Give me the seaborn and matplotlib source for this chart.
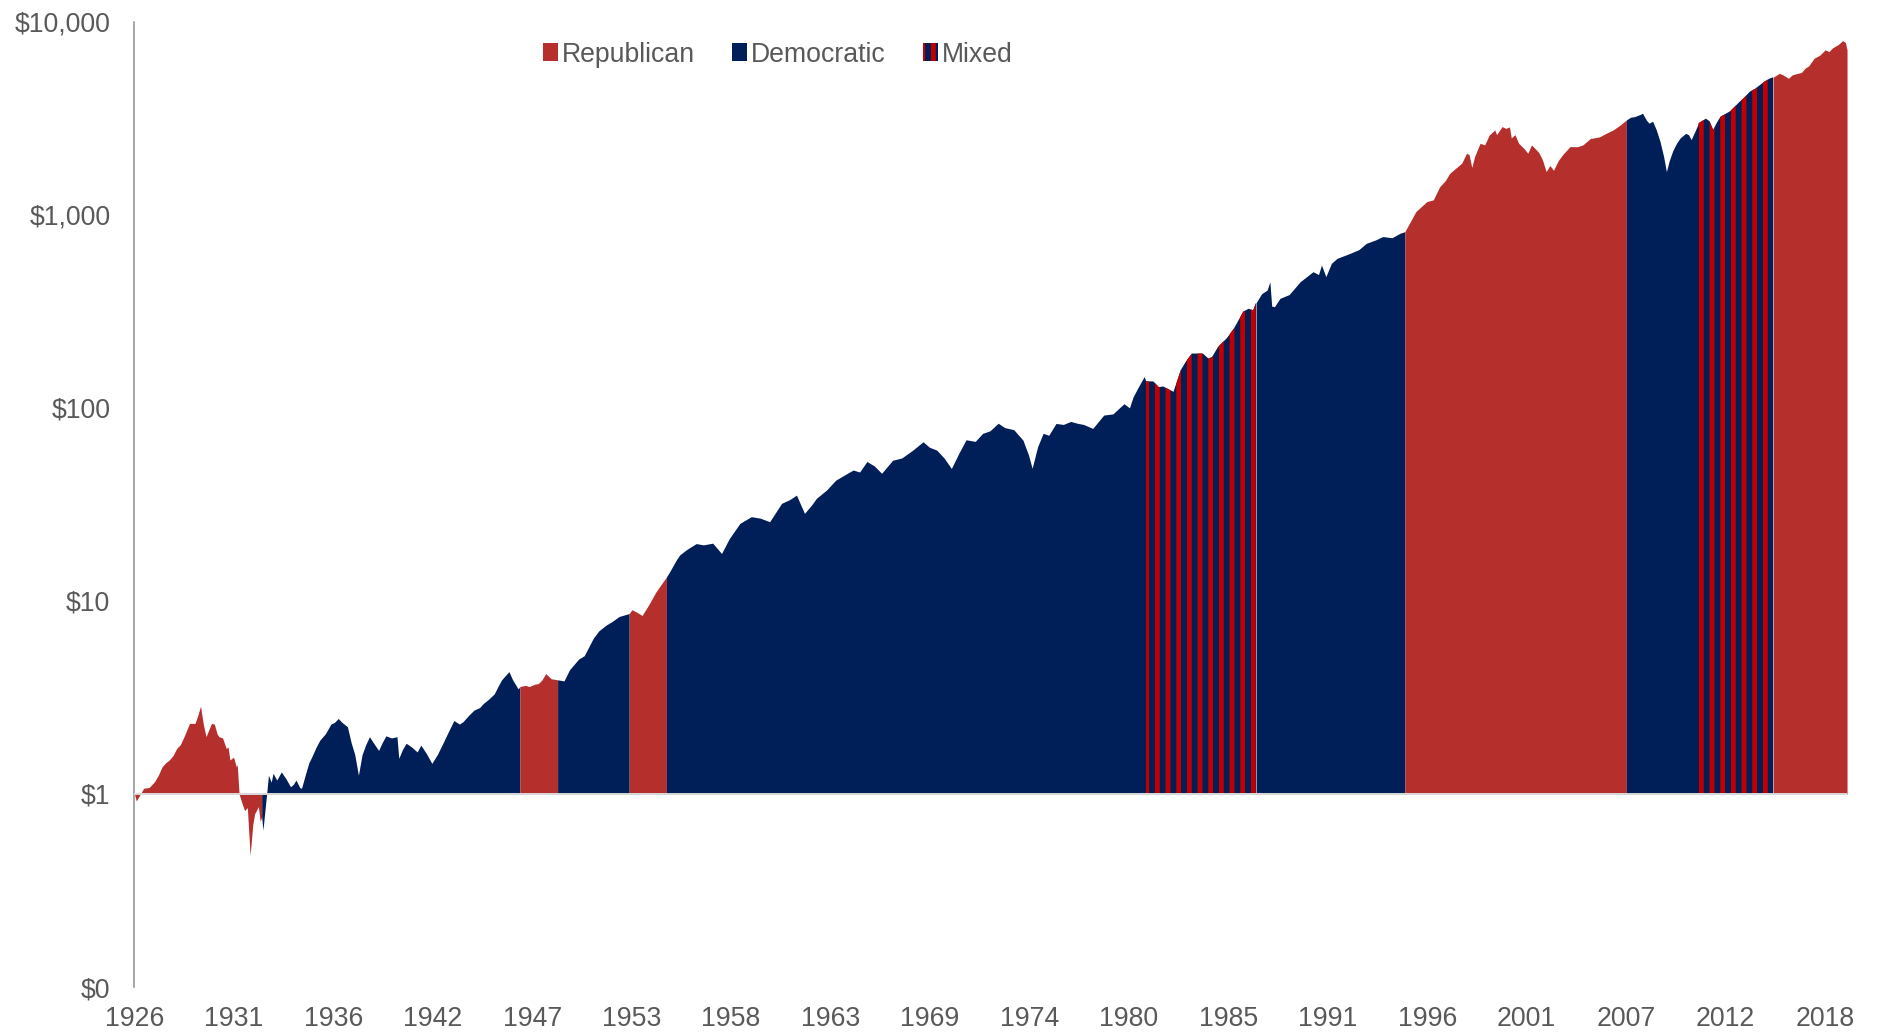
import numpy as np
import matplotlib
matplotlib.use("Agg")
import matplotlib.pyplot as plt
from matplotlib import font_manager
from matplotlib.patches import Patch
from matplotlib.ticker import NullLocator
import seaborn as sns

# growth of $1 (year, value)
years = [
    1926.00, 1926.10, 1926.30, 1926.50, 1926.80, 1927.10, 1927.30, 1927.50, 1927.70, 1927.90,
    1928.10, 1928.30, 1928.50, 1928.70, 1928.90, 1929.00, 1929.30, 1929.45, 1929.60, 1929.75,
    1929.90, 1930.05, 1930.20, 1930.35, 1930.50, 1930.60, 1930.80, 1931.00, 1931.10, 1931.20,
    1931.40, 1931.55, 1931.60, 1931.70, 1931.85, 1932.00, 1932.15, 1932.30, 1932.45, 1932.55,
    1932.75, 1932.85, 1932.93, 1933.00, 1933.20, 1933.30, 1933.45, 1933.55, 1933.75, 1934.00,
    1934.25, 1934.50, 1934.65, 1934.80, 1935.00, 1935.10, 1935.30, 1935.50, 1935.65, 1935.90,
    1936.10, 1936.40, 1936.70, 1936.90, 1937.10, 1937.30, 1937.60, 1937.80, 1938.00, 1938.20,
    1938.40, 1938.60, 1938.80, 1939.00, 1939.30, 1939.50, 1939.70, 1940.00, 1940.30, 1940.40,
    1940.60, 1940.80, 1941.10, 1941.40, 1941.60, 1941.90, 1942.20, 1942.50, 1942.80, 1943.10,
    1943.40, 1943.70, 1943.90, 1944.20, 1944.50, 1944.80, 1945.00, 1945.30, 1945.60, 1945.80,
    1946.00, 1946.20, 1946.40, 1946.60, 1946.90, 1947.00, 1947.30, 1947.50, 1947.80, 1948.00,
    1948.20, 1948.40, 1948.70, 1949.05, 1949.40, 1949.70, 1950.20, 1950.50, 1950.99, 1951.30,
    1951.70, 1952.00, 1952.40, 1952.95, 1953.10, 1953.40, 1953.65, 1954.00, 1954.40, 1954.70,
    1954.98, 1955.20, 1955.50, 1955.70, 1956.10, 1956.60, 1957.00, 1957.50, 1957.98, 1958.40,
    1958.98, 1959.60, 1960.10, 1960.60, 1961.25, 1961.70, 1962.06, 1962.50, 1962.90, 1963.15,
    1963.70, 1964.20, 1964.70, 1965.15, 1965.50, 1965.90, 1966.30, 1966.70, 1967.30, 1967.80,
    1968.40, 1968.96, 1969.30, 1969.70, 1970.10, 1970.50, 1970.90, 1971.30, 1971.80, 1972.20,
    1972.60, 1973.05, 1973.40, 1973.90, 1974.40, 1974.70, 1974.90, 1975.20, 1975.50, 1975.80,
    1976.20, 1976.60, 1977.00, 1977.40, 1977.70, 1978.20, 1978.80, 1979.30, 1979.90, 1980.20,
    1980.40, 1980.70, 1981.00, 1981.10, 1981.50, 1981.80, 1982.04, 1982.60, 1983.00, 1983.30,
    1983.60, 1984.20, 1984.50, 1984.70, 1985.03, 1985.50, 1985.90, 1986.40, 1986.70, 1986.94,
    1987.10, 1987.40, 1987.70, 1987.85, 1987.95, 1988.10, 1988.40, 1988.90, 1989.50, 1990.20,
    1990.50, 1990.66, 1990.90, 1991.20, 1991.50, 1992.20, 1992.70, 1993.10, 1993.60, 1994.00,
    1994.50, 1994.93, 1995.20, 1995.80, 1996.40, 1996.75, 1997.10, 1997.40, 1997.65, 1998.00,
    1998.30, 1998.56, 1998.70, 1998.85, 1999.00, 1999.30, 1999.55, 1999.80, 2000.10, 2000.20,
    2000.50, 2000.70, 2000.90, 2001.00, 2001.20, 2001.40, 2001.70, 2001.90, 2002.10, 2002.30,
    2002.50, 2002.70, 2002.90, 2003.10, 2003.30, 2003.55, 2003.80, 2004.20, 2004.60, 2004.90,
    2005.30, 2005.80, 2006.20, 2006.55, 2006.90, 2007.27, 2007.50, 2007.70, 2008.00, 2008.15,
    2008.35, 2008.50, 2008.70, 2008.90, 2009.10, 2009.30, 2009.45, 2009.60, 2009.80, 2010.00,
    2010.20, 2010.50, 2010.65, 2010.80, 2011.00, 2011.20, 2011.60, 2011.80, 2012.00, 2012.20,
    2012.40, 2012.90, 2013.20, 2013.45, 2013.70, 2014.00, 2014.30, 2014.55, 2014.80, 2015.10,
    2015.26, 2015.60, 2015.80, 2016.10, 2016.30, 2016.60, 2016.80, 2017.00, 2017.20, 2017.50,
    2017.80, 2018.10, 2018.30, 2018.50, 2018.80, 2019.05, 2019.20, 2019.29,
]
growth = [
    1.00, 0.92, 0.99, 1.07, 1.08, 1.16, 1.25, 1.38, 1.45, 1.50,
    1.58, 1.72, 1.80, 1.98, 2.20, 2.32, 2.32, 2.55, 2.85, 2.30,
    1.98, 2.15, 2.32, 2.30, 2.05, 1.98, 1.95, 1.72, 1.75, 1.50,
    1.55, 1.38, 1.42, 1.00, 0.90, 0.82, 0.85, 0.48, 0.70, 0.79,
    0.86, 0.72, 0.76, 0.65, 1.00, 1.25, 1.15, 1.28, 1.18, 1.30,
    1.20, 1.09, 1.12, 1.18, 1.08, 1.07, 1.25, 1.45, 1.55, 1.75,
    1.90, 2.05, 2.30, 2.35, 2.46, 2.35, 2.23, 1.85, 1.60, 1.25,
    1.60, 1.80, 1.98, 1.85, 1.68, 1.85, 2.00, 1.95, 1.98, 1.53,
    1.70, 1.83, 1.75, 1.65, 1.79, 1.62, 1.44, 1.60, 1.83, 2.10,
    2.40, 2.30, 2.37, 2.55, 2.72, 2.80, 2.94, 3.10, 3.30, 3.60,
    3.90, 4.10, 4.30, 3.90, 3.50, 3.60, 3.65, 3.60, 3.70, 3.73,
    3.90, 4.20, 3.95, 3.90, 3.85, 4.40, 5.00, 5.20, 6.40, 7.00,
    7.50, 7.80, 8.30, 8.60, 9.00, 8.70, 8.40, 9.50, 11.1, 12.2,
    13.3, 14.4, 16.2, 17.3, 18.5, 19.8, 19.5, 19.9, 17.6, 21.0,
    25.2, 27.3, 26.8, 25.7, 32.0, 33.5, 35.3, 28.4, 31.5, 34.0,
    37.5, 42.2, 45.0, 47.6, 46.5, 52.7, 50.0, 45.8, 53.5, 55.0,
    60.4, 66.7, 62.5, 60.4, 55.0, 48.5, 58.0, 68.3, 67.0, 73.7,
    76.0, 83.2, 79.0, 77.0, 68.0, 57.0, 48.6, 63.0, 73.8, 72.0,
    83.0, 82.0, 85.0, 83.0, 82.0, 78.2, 91.7, 93.0, 105, 100,
    114, 129, 145, 137, 137, 128, 129, 121, 157, 175,
    191, 191, 180, 183, 207, 229, 258, 315, 326, 320,
    350, 390, 407, 450, 336, 334, 369, 386, 450, 507,
    490, 549, 478, 560, 594, 630, 660, 711, 740, 771,
    760, 801, 817, 1038, 1170, 1194, 1397, 1500, 1640, 1750,
    1849, 2081, 2050, 1758, 2000, 2344, 2300, 2590, 2750, 2600,
    2862, 2800, 2850, 2500, 2600, 2344, 2200, 2081, 2300, 2200,
    2100, 1923, 1672, 1800, 1700, 1900, 2050, 2254, 2250, 2300,
    2480, 2530, 2650, 2750, 2900, 3097, 3200, 3220, 3300, 3355,
    3100, 2980, 3050, 2750, 2400, 2000, 1672, 1900, 2150, 2344,
    2500, 2640, 2600, 2450, 2700, 2980, 3145, 3050, 2750, 3000,
    3220, 3426, 3650, 3857, 4050, 4345, 4500, 4700, 4900, 5090,
    5150, 5400, 5300, 5090, 5300, 5400, 5450, 5740, 5900, 6470,
    6700, 7150, 7000, 7320, 7600, 7980, 7800, 7150,
]

# party control periods
period_start = [1926.00, 1932.93, 1947.00, 1949.05, 1952.95, 1954.98,
                1981.10, 1987.10, 1995.20, 2007.27, 2011.20, 2015.26]
period_end = [1932.93, 1947.00, 1949.05, 1952.95, 1954.98, 1981.10,
              1987.10, 1995.20, 2007.27, 2011.20, 2015.26, 2019.29]
period_party = ["Republican", "Democratic", "Republican", "Democratic", "Republican", "Democratic",
                "Mixed", "Democratic", "Republican", "Democratic", "Mixed", "Republican"]

y_ticks = [0.1, 1, 10, 100, 1000, 10000]
y_tick_labels = ["$0", "$1", "$10", "$100", "$1,000", "$10,000"]
x_tick_labels = ["1926", "1931", "1936", "1942", "1947", "1953", "1958", "1963", "1969",
                 "1974", "1980", "1985", "1991", "1996", "2001", "2007", "2012", "2018"]

colors = {"Republican": "#B5302D", "Democratic": "#001E57", "Mixed": "#C00000"}
grey_text = "#595959"

sns.set_theme(style="white")

# the source text is a narrow Arial-like face; use Liberation Sans Narrow when present
try:
    font_manager.findfont("Liberation Sans Narrow", fallback_to_default=False)
    font_family, font_size = "Liberation Sans Narrow", 36
except ValueError:
    font_family, font_size = "Liberation Sans", 30
plt.rcParams["font.family"] = [font_family, "DejaVu Sans"]
plt.rcParams["hatch.linewidth"] = 5.5
plt.rcParams["hatch.color"] = colors["Mixed"]

DPI = 64
fig = plt.figure(figsize=(1883 / DPI, 1032 / DPI), dpi=DPI)
ax = fig.add_axes([0.0714, 0.0436, 0.9096, 0.9354])

x = np.array(years)
y = np.array(growth)
for start, end, party in zip(period_start, period_end, period_party):
    m = (x >= start) & (x <= end)
    if party == "Mixed":
        ax.fill_between(x[m], 1, y[m], facecolor=colors["Democratic"],
                        edgecolor=colors["Mixed"], hatch="|", linewidth=0)
    else:
        ax.fill_between(x[m], 1, y[m], color=colors[party], linewidth=0)

ax.axhline(1, color="#D9D9D9", lw=2.2, zorder=3)

ax.set_yscale("log")
ax.set_ylim(0.1, 10000)
ax.set_xlim(1926, 2019.3)
ax.set_yticks(y_ticks)
ax.set_yticklabels(y_tick_labels)
ax.yaxis.set_minor_locator(NullLocator())
x_tick_pos = 1926 + np.arange(len(x_tick_labels)) * 65 / 12
ax.set_xticks(x_tick_pos)
ax.set_xticklabels(x_tick_labels)

ax.tick_params(axis="y", length=0, pad=27, labelsize=font_size, labelcolor=grey_text)
ax.tick_params(axis="x", length=0, pad=21, labelsize=font_size, labelcolor=grey_text)

sns.despine(ax=ax, top=True, right=True, bottom=True)
ax.spines["left"].set_color("#8C8C8C")
ax.spines["left"].set_linewidth(1.7)
ax.grid(False)

handles = [
    Patch(facecolor=colors["Republican"], linewidth=0),
    Patch(facecolor=colors["Democratic"], linewidth=0),
    Patch(facecolor=colors["Democratic"], edgecolor=colors["Mixed"], hatch="|", linewidth=0),
]
fig.legend(handles, ["Republican", "Democratic", "Mixed"], loc="center",
           bbox_to_anchor=(0.413, 0.947), ncol=3, frameon=False, fontsize=font_size,
           handlelength=0.55, handleheight=0.65, handletextpad=0.15,
           columnspacing=1.4, labelcolor=grey_text)

fig.savefig("out.png", dpi=DPI)
